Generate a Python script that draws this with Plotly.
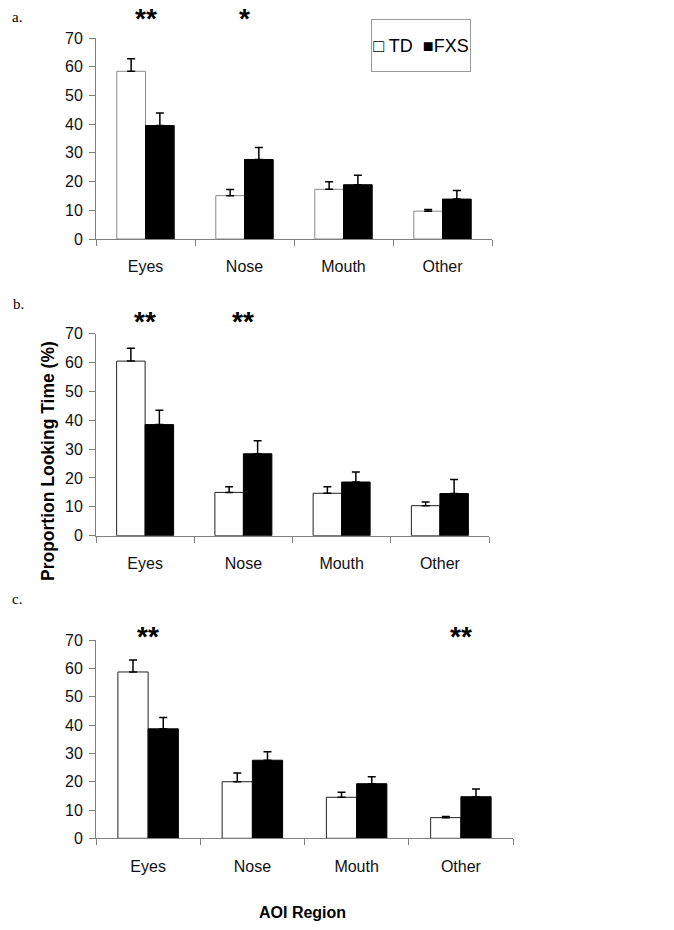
import plotly.graph_objects as go

categories = ["Eyes", "Nose", "Mouth", "Other"]
groups = ["TD", "FXS"]

# Panel a
a_td = [58.4, 15.1, 17.3, 9.7]
a_td_err = [4.4, 2.1, 2.6, 0.6]
a_fxs = [39.5, 27.7, 18.9, 13.9]
a_fxs_err = [4.4, 4.2, 3.3, 3.0]
# Panel b
b_td = [60.5, 15.0, 14.7, 10.4]
b_td_err = [4.5, 2.0, 2.3, 1.3]
b_fxs = [38.5, 28.4, 18.6, 14.6]
b_fxs_err = [5.0, 4.5, 3.5, 4.9]
# Panel c
c_td = [58.8, 20.0, 14.5, 7.3]
c_td_err = [4.2, 3.1, 1.8, 0.4]
c_fxs = [38.7, 27.6, 19.3, 14.7]
c_fxs_err = [4.0, 3.0, 2.5, 2.7]

# significance markers per panel
sig_a = {"Eyes": "**", "Nose": "*"}
sig_b = {"Eyes": "**", "Nose": "**"}
sig_c = {"Eyes": "**", "Other": "**"}

y_ticks = [0, 10, 20, 30, 40, 50, 60, 70]

W, H = 674, 930
FONT = "Liberation Sans, Arial, sans-serif"

def px_x(x):
    return x / W

def px_y(y):
    return 1 - y / H

panels = [
    dict(td=a_td, tde=a_td_err, fx=a_fxs, fxe=a_fxs_err, sig=sig_a,
         xd=[px_x(96), px_x(492)], yd=[px_y(239), px_y(38)], tdline="#8a8a8a", sigy=19, label="a.", lab=(17, 17)),
    dict(td=b_td, tde=b_td_err, fx=b_fxs, fxe=b_fxs_err, sig=sig_b,
         xd=[px_x(96), px_x(489)], yd=[px_y(535.7), px_y(333.7)], tdline="#222222", sigy=321, label="b.", lab=(18, 304)),
    dict(td=c_td, tde=c_td_err, fx=c_fxs, fxe=c_fxs_err, sig=sig_c,
         xd=[px_x(96), px_x(513)], yd=[px_y(838.3), px_y(640.3)], tdline="#222222", sigy=636, label="c.", lab=(17, 599)),
]

fig = go.Figure()
annotations = []

for i, p in enumerate(panels):
    n = "" if i == 0 else str(i + 1)
    xa, ya = "x" + n, "y" + n
    fig.add_trace(go.Bar(
        x=categories, y=p["td"], name="TD", xaxis=xa, yaxis=ya,
        marker=dict(color="white", line=dict(color=p["tdline"], width=1)),
        error_y=dict(type="data", symmetric=False, array=p["tde"], arrayminus=[0] * 4,
                     color="black", thickness=1.5, width=4),
        showlegend=False,
    ))
    fig.add_trace(go.Bar(
        x=categories, y=p["fx"], name="FXS", xaxis=xa, yaxis=ya,
        marker=dict(color="black", line=dict(color="black", width=1)),
        error_y=dict(type="data", symmetric=False, array=p["fxe"], arrayminus=[0] * 4,
                     color="black", thickness=1.5, width=4),
        showlegend=False,
    ))
    axis_common = dict(showline=True, linecolor="#808080", linewidth=1, ticks="outside",
                       tickcolor="#808080", tickwidth=1, showgrid=False, zeroline=False,
                       automargin=False,
                       tickfont=dict(family=FONT, size=16, color="#111111"))
    fig.update_layout(**{
        ("xaxis" + n): dict(domain=p["xd"], anchor=ya, type="category", categoryorder="array",
                            categoryarray=categories, tickson="boundaries", ticklen=6,
                            ticklabelstandoff=13, **axis_common),
        ("yaxis" + n): dict(domain=p["yd"], anchor=xa, range=[0, 70], tickvals=y_ticks,
                            ticklen=6, ticklabelstandoff=3, **axis_common),
    })
    for cat, txt in p["sig"].items():
        annotations.append(dict(x=cat, y=px_y(p["sigy"]), xref=xa, yref="paper",
                                text="<b>" + txt + "</b>", showarrow=False,
                                xanchor="center", yanchor="middle",
                                font=dict(family=FONT, size=28, color="black")))
    annotations.append(dict(x=px_x(p["lab"][0]), y=px_y(p["lab"][1]), xref="paper", yref="paper",
                            text=p["label"], showarrow=False, xanchor="center", yanchor="middle",
                            font=dict(family="Liberation Serif, Times New Roman, serif", size=15, color="black")))

# legend box
annotations.append(dict(x=px_x(421), y=px_y(45.5), xref="paper", yref="paper",
                        text="\u25a1 TD  \u25a0FXS", showarrow=False,
                        xanchor="center", yanchor="middle",
                        width=98, height=51, borderpad=0, bordercolor="#9a9a9a", borderwidth=1,
                        bgcolor="white", font=dict(family=FONT, size=18, color="black")))

# axis titles
annotations.append(dict(x=px_x(48), y=px_y(461), xref="paper", yref="paper",
                        text="<b>Proportion Looking Time (%)</b>", textangle=-90, showarrow=False,
                        xanchor="center", yanchor="middle",
                        font=dict(family=FONT, size=17.5, color="black")))
annotations.append(dict(x=px_x(302), y=px_y(912), xref="paper", yref="paper",
                        text="<b>AOI Region</b>", showarrow=False,
                        xanchor="center", yanchor="middle",
                        font=dict(family=FONT, size=16, color="black")))

fig.update_layout(
    width=W, height=H, margin=dict(l=0, r=0, t=0, b=0, pad=0),
    paper_bgcolor="white", plot_bgcolor="white",
    barmode="group", bargap=0.42, bargroupgap=0,
    annotations=annotations,
)

fig.write_html("out.html", config={"displayModeBar": False},
               post_script="document.body.style.margin='0';")
